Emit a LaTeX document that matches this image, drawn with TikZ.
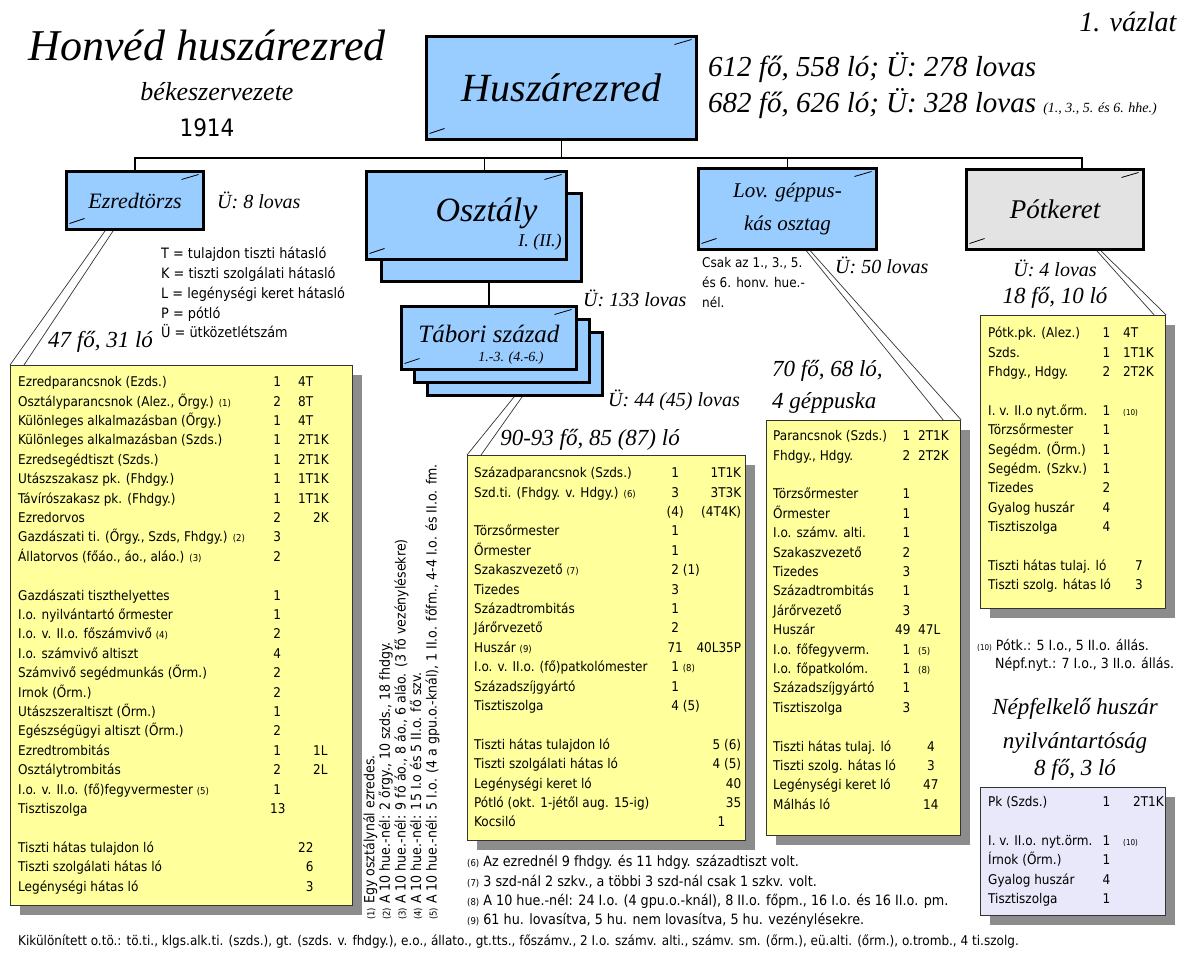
\documentclass[tikz,border=0pt]{standalone}
\usepackage{fontspec}
\setmainfont{DejaVu Sans Condensed}
\newfontfamily\hdfont{Liberation Serif}
\usepackage{array}
\usepackage{tikz}
\usetikzlibrary{positioning,shadows}
\newcolumntype{R}[1]{>{\raggedleft\arraybackslash}p{#1}}
\newcolumntype{C}[1]{>{\centering\arraybackslash}p{#1}}
\newcommand{\jel}[1]{{\fontsize{9.5}{9.5}\selectfont(#1)}}
\newcommand{\kjel}[1]{{\fontsize{8}{8}\selectfont(#1)}}
\definecolor{kek}{HTML}{99CCFF}
\definecolor{sarga}{HTML}{FFFF9C}
\definecolor{szurke}{HTML}{E3E3E3}
\definecolor{lila}{HTML}{E8E8FA}
\tikzset{
  hatso/.style={draw, line width=3pt, fill=kek, anchor=north west},
  egyseg/.style={hatso, path picture={
      \draw[line width=.8pt] ([xshift=-22pt,yshift=-8pt]path picture bounding box.north east) -- ([xshift=-5pt,yshift=-3pt]path picture bounding box.north east);
      \draw[line width=.8pt] ([xshift=3pt,yshift=6pt]path picture bounding box.south west) -- ([xshift=18pt,yshift=11pt]path picture bounding box.south west);}},
  lista/.style={draw=black!80, line width=1.2pt, fill=sarga, anchor=north west,
      drop shadow={shadow xshift=9pt, shadow yshift=-9pt, fill=black!45, opacity=1}},
  sor/.style={anchor=north west, inner sep=0pt, font=\fontsize{13.4}{19.4}\selectfont},
  felirat/.style={inner sep=0pt, font=\hdfont\itshape\fontsize{20}{24}\selectfont},
  letszam/.style={inner sep=0pt, font=\hdfont\itshape\fontsize{23}{32}\selectfont},
  hivo/.style={draw=black!80, line width=.7pt},
  fa/.style={draw, line width=1.2pt}
}

\begin{document}
\begin{tikzpicture}[x=1pt, y=-1pt]
\useasboundingbox (0,0) rectangle (1184,953);
%
\node[font=\hdfont\itshape\fontsize{44}{48}\selectfont] (cim) at (207,45) {Honvéd huszárezred};
\node[font=\hdfont\itshape\fontsize{26}{30}\selectfont] (alcim) at (217,92) {békeszervezete};
\node[font=\fontsize{24}{30}\selectfont] (ev) at (207,128) {1914};
\node[anchor=east, font=\hdfont\itshape\fontsize{28}{30}\selectfont] (vazlat) at (1180,22) {1. vázlat};
%
\node[egyseg, minimum width=270pt, minimum height=103pt] (huszar) at (425,35) {\hdfont\itshape\fontsize{40}{44}\selectfont Huszárezred};
\node[anchor=west, inner sep=0pt, font=\hdfont\itshape\fontsize{29}{34}\selectfont] (stat1) at (708,68) {612 fő, 558 ló; Ü: 278 lovas};
\node[anchor=west, inner sep=0pt, font=\hdfont\itshape\fontsize{29}{34}\selectfont] (stat2) at (708,104) {682 fő, 626 ló; Ü: 328 lovas \fontsize{14}{14}\selectfont(1., 3., 5. és 6. hhe.)};
%
\node[egyseg, minimum width=137pt, minimum height=58pt] (ezredtorzs) at (65,170) {\hdfont\itshape\fontsize{22}{26}\selectfont Ezredtörzs};
\node[hatso, minimum width=200pt, minimum height=88pt] (osztaly2) at (380,192) {};
\node[egyseg, minimum width=200pt, minimum height=88pt] (osztaly) at (365,170) {};
\node[font=\hdfont\itshape\fontsize{34}{38}\selectfont] (osztalynev) at ([xshift=20pt,yshift=2pt]osztaly.center) {Osztály};
\node[font=\hdfont\itshape\fontsize{18}{20}\selectfont] (osztalyszam) at (540,242) {I. (II.)};
\node[hatso, minimum width=175pt, minimum height=63pt] (tabori3) at (426,331) {};
\node[hatso, minimum width=175pt, minimum height=63pt] (tabori2) at (413,318) {};
\node[egyseg, minimum width=175pt, minimum height=63pt] (tabori) at (400,305) {};
\node[font=\hdfont\itshape\fontsize{25}{28}\selectfont] (taborinev) at (489,334) {Tábori század};
\node[font=\hdfont\itshape\fontsize{14}{16}\selectfont] (taboriszam) at (511,358) {1.-3. (4.-6.)};
\node[egyseg, minimum width=178pt, minimum height=81pt, align=center, font=\hdfont\itshape\fontsize{21}{33}\selectfont] (lov) at (697,167) {Lov. géppus-\\kás osztag};
\node[egyseg, fill=szurke, minimum width=177pt, minimum height=80pt] (potker) at (965,168) {\hdfont\itshape\fontsize{27}{30}\selectfont Pótkeret};
%
\coordinate (bus) at ([yshift=-17pt]huszar.south);
\draw[fa] (huszar.south) -- (bus);
\draw[fa] (ezredtorzs.north) |- (bus);
\draw[fa] (bus) -| ([xshift=27pt]potker.north);
\draw[fa] (bus) -| ([xshift=18pt]osztaly.north);
\draw[fa] (bus) -| (lov.north);
\draw[fa] (tabori.north) -- (tabori.north |- osztaly2.south);
%
\node[felirat, right=12pt of ezredtorzs] (u8) {Ü: 8 lovas};
\node[felirat, anchor=west] (u133) at (583,298) {Ü: 133 lovas};
\node[felirat, anchor=west] (u44) at (608,400) {Ü: 44 (45) lovas};
\node[felirat, anchor=west] (u50) at (835,265) {Ü: 50 lovas};
\node[felirat, below=9pt of potker] (u4) {Ü: 4 lovas};
\node[letszam, below=10pt of u4] (potklsz) {18 fő, 10 ló};
\node[letszam, anchor=west] (torzslsz) at (48,342) {47 fő, 31 ló};
\node[letszam] (taborilsz) at (590,440) {90-93 fő, 85 (87) ló};
\node[letszam, anchor=north west, align=left] (gepplsz) at (772,360) {70 fő, 68 ló,\\4 géppuska};
\node[letszam, anchor=north, align=center, font=\hdfont\itshape\fontsize{23}{34}\selectfont] (nepfcim) at (1075,698) {Népfelkelő huszár\\nyilvántartóság\\[-7pt]8 fő, 3 ló};
%
\node[sor, font=\fontsize{14.3}{19.7}\selectfont] (jelmagy) at (161,245) {\begin{tabular}{@{}l@{}}
T = tulajdon tiszti hátasló\\
K = tiszti szolgálati hátasló\\
L = legénységi keret hátasló\\
P = pótló\\
Ü = ütközetlétszám
\end{tabular}};
\node[sor, font=\fontsize{13.4}{20}\selectfont] (csak) at (702,253) {\begin{tabular}{@{}l@{}}
Csak az 1., 3., 5.\\
és 6. honv. hue.-\\
nél.
\end{tabular}};
%
\node[lista, minimum width=342pt, minimum height=540pt] (torzslista) at (10,365) {};
\node[lista, minimum width=278pt, minimum height=385pt] (taborilista) at (467,455) {};
\node[lista, minimum width=194pt, minimum height=415pt] (gepplista) at (766,420) {};
\node[lista, minimum width=185pt, minimum height=293pt] (potklista) at (980,315) {};
\node[lista, fill=lila, minimum width=185pt, minimum height=128pt] (nepflista) at (980,787) {};
%
\draw[hivo] ([xshift=-30pt]ezredtorzs.south) -- (torzslista.north west);
\draw[hivo] ([xshift=-22pt]ezredtorzs.south) -- ([xshift=14pt]torzslista.north west);
\draw[hivo] ([xshift=88pt]tabori3.south west) -- (taborilista.north west);
\draw[hivo] ([xshift=96pt]tabori3.south west) -- ([xshift=14pt]taborilista.north west);
\draw[hivo] ([xshift=19pt]lov.south) -- ([xshift=-18pt]gepplista.north east);
\draw[hivo] ([xshift=23pt]lov.south) -- (gepplista.north east);
\draw[hivo] ([xshift=42pt]potker.south) -- ([xshift=-12pt]potklista.north east);
\draw[hivo] ([xshift=46pt]potker.south) -- (potklista.north east);
%
\node[sor] (torzssor) at ([xshift=8pt,yshift=-8pt]torzslista.north west) {\begin{tabular}{@{}p{252pt}@{}C{14pt}@{\hspace{14pt}}l@{}}
Ezredparancsnok (Ezds.) & 1 & 4T\\
Osztályparancsnok (Alez., Őrgy.) \jel{1} & 2 & 8T\\
Különleges alkalmazásban (Őrgy.) & 1 & 4T\\
Különleges alkalmazásban (Szds.) & 1 & 2T1K\\
Ezredsegédtiszt (Szds.) & 1 & 2T1K\\
Utászszakasz pk. (Fhdgy.) & 1 & 1T1K\\
Távírószakasz pk. (Fhdgy.) & 1 & 1T1K\\
Ezredorvos & 2 & \phantom{2T}2K\\
Gazdászati ti. (Őrgy., Szds, Fhdgy.) \jel{2} & 3 & \\
Állatorvos (főáo., áo., aláo.) \jel{3} & 2 & \\
 & & \\
Gazdászati tiszthelyettes & 1 & \\
I.o. nyilvántartó őrmester & 1 & \\
I.o. v. II.o. főszámvivő \jel{4} & 2 & \\
I.o. számvivő altiszt & 4 & \\
Számvivő segédmunkás (Őrm.) & 2 & \\
Irnok (Őrm.) & 2 & \\
Utászszeraltiszt (Őrm.) & 1 & \\
Egészségügyi altiszt (Őrm.) & 2 & \\
Ezredtrombitás & 1 & \phantom{2T}1L\\
Osztálytrombitás & 2 & \phantom{2T}2L\\
I.o. v. II.o. (fő)fegyvermester \jel{5} & 1 & \\
Tisztiszolga & 13 & \\
 & & \\
Tiszti hátas tulajdon ló & & 22\\
Tiszti szolgálati hátas ló & & \phantom{2}6\\
Legénységi hátas ló & & \phantom{2}3
\end{tabular}};
\node[sor] (taborisor) at ([xshift=7pt,yshift=-9pt]taborilista.north west) {\begin{tabular}{@{}p{191pt}@{}C{20pt}@{}R{56pt}@{}}
Századparancsnok (Szds.) & 1 & 1T1K\\
Szd.ti. (Fhdgy. v. Hdgy.) \jel{6} & 3 & 3T3K\\
 & (4) & (4T4K)\\
Törzsőrmester & 1 & \\
Őrmester & 1 & \\
Szakaszvezető \jel{7} & 2\rlap{\ (1)} & \\
Tizedes & 3 & \\
Századtrombitás & 1 & \\
Járőrvezető & 2 & \\
Huszár \jel{9} & 71 & 40L35P\\
I.o. v. II.o. (fő)patkolómester & 1\rlap{\ \jel{8}} & \\
Századszíjgyártó & 1 & \\
Tisztiszolga & 4\rlap{\ (5)} & \\
 & & \\
Tiszti hátas tulajdon ló & & 5 (6)\\
Tiszti szolgálati hátas ló & & 4 (5)\\
Legénységi keret ló & & 40\hspace*{13pt}\\
Pótló (okt. 1-jétől aug. 15-ig) & & 35\hspace*{13pt}\\
Kocsiló & & 1\hspace*{16pt}
\end{tabular}};
\node[sor] (geppsor) at ([xshift=7pt,yshift=-7pt]gepplista.north west) {\begin{tabular}{@{}p{122pt}@{}R{15pt}@{\hspace{8pt}}l@{}}
Parancsnok (Szds.) & 1 & 2T1K\\
Fhdgy., Hdgy. & 2 & 2T2K\\
 & & \\
Törzsőrmester & 1 & \\
Őrmester & 1 & \\
I.o. számv. alti. & 1 & \\
Szakaszvezető & 2 & \\
Tizedes & 3 & \\
Századtrombitás & 1 & \\
Járőrvezető & 3 & \\
Huszár & 49 & 47L\\
I.o. főfegyverm. & 1 & \jel{5}\\
I.o. főpatkolóm. & 1 & \jel{8}\\
Századszíjgyártó & 1 & \\
Tisztiszolga & 3 & \\
 & & \\
\multicolumn{2}{@{}l}{Tiszti hátas tulaj. ló} & \hspace{9pt}4\\
\multicolumn{2}{@{}l}{Tiszti szolg. hátas ló} & \hspace{9pt}3\\
\multicolumn{2}{@{}l}{Legénységi keret ló} & \hspace{5pt}47\\
\multicolumn{2}{@{}l}{Málhás ló} & \hspace{5pt}14
\end{tabular}};
\node[sor] (potksor) at ([xshift=8pt,yshift=-9pt]potklista.north west) {\begin{tabular}{@{}p{110pt}@{}R{12pt}@{\hspace{13pt}}l@{}}
Pótk.pk. (Alez.) & 1 & 4T\\
Szds. & 1 & 1T1K\\
Fhdgy., Hdgy. & 2 & 2T2K\\
 & & \\
I. v. II.o nyt.őrm. & 1 & \kjel{10}\\
Törzsőrmester & 1 & \\
Segédm. (Őrm.) & 1 & \\
Segédm. (Szkv.) & 1 & \\
Tizedes & 2 & \\
Gyalog huszár & 4 & \\
Tisztiszolga & 4 & \\
 & & \\
\multicolumn{2}{@{}l}{Tiszti hátas tulaj. ló} & \hspace{12pt}7\\
\multicolumn{2}{@{}l}{Tiszti szolg. hátas ló} & \hspace{12pt}3
\end{tabular}};
\node[sor] (nepfsor) at ([xshift=8pt,yshift=-6pt]nepflista.north west) {\begin{tabular}{@{}p{110pt}@{}R{12pt}@{\hspace{13pt}}l@{}}
Pk (Szds.) & 1 & \hspace{10pt}2T1K\\
 & & \\
I. v. II.o. nyt.örm. & 1 & \kjel{10}\\
Írnok (Őrm.) & 1 & \\
Gyalog huszár & 4 & \\
Tisztiszolga & 1 &
\end{tabular}};
%
\node[sor, rotate=90, font=\fontsize{14}{14.6}\selectfont] (jegyz1) at (363,920) {\begin{tabular}{@{}l@{}}
\jel{1} Egy osztálynál ezredes.\\
\jel{2} A 10 hue.-nél: 2 őrgy., 10 szds., 18 fhdgy.\\
\jel{3} A 10 hue.-nél: 9 fő áo., 8 áo., 6 aláo. (3 fő vezénylésekre)\\
\jel{4} A 10 hue.-nél: 15 I.o és 5 II.o. fő szv.\\
\jel{5} A 10 hue.-nél: 5 I.o. (4 a gpu.o.-knál), 1 II.o. főfm., 4-4 I.o. és II.o. fm.
\end{tabular}};
\node[sor, font=\fontsize{14.2}{19.3}\selectfont] (jegyz6) at (467,853) {\begin{tabular}{@{}l@{}}
\jel{6} Az ezrednél 9 fhdgy. és 11 hdgy. századtiszt volt.\\
\jel{7} 3 szd-nál 2 szkv., a többi 3 szd-nál csak 1 szkv. volt.\\
\jel{8} A 10 hue.-nél: 24 I.o. (4 gpu.o.-knál), 8 II.o. főpm., 16 I.o. és 16 II.o. pm.\\
\jel{9} 61 hu. lovasítva, 5 hu. nem lovasítva, 5 hu. vezénylésekre.
\end{tabular}};
\node[sor, font=\fontsize{14}{18}\selectfont] (jegyz10) at (977,638) {\begin{tabular}{@{}l@{}}
\kjel{10} Pótk.: 5 I.o., 5 II.o. állás.\\
\hspace{18pt}Népf.nyt.: 7 I.o., 3 II.o. állás.
\end{tabular}};
\node[anchor=west, inner sep=0pt, font=\fontsize{13.4}{14}\selectfont] (kikul) at (18,942) {Kikülönített o.tö.: tö.ti., klgs.alk.ti. (szds.), gt. (szds. v. fhdgy.), e.o., állato., gt.tts., főszámv., 2 I.o. számv. alti., számv. sm. (őrm.), eü.alti. (őrm.), o.tromb., 4 ti.szolg.};
\end{tikzpicture}
\end{document}
